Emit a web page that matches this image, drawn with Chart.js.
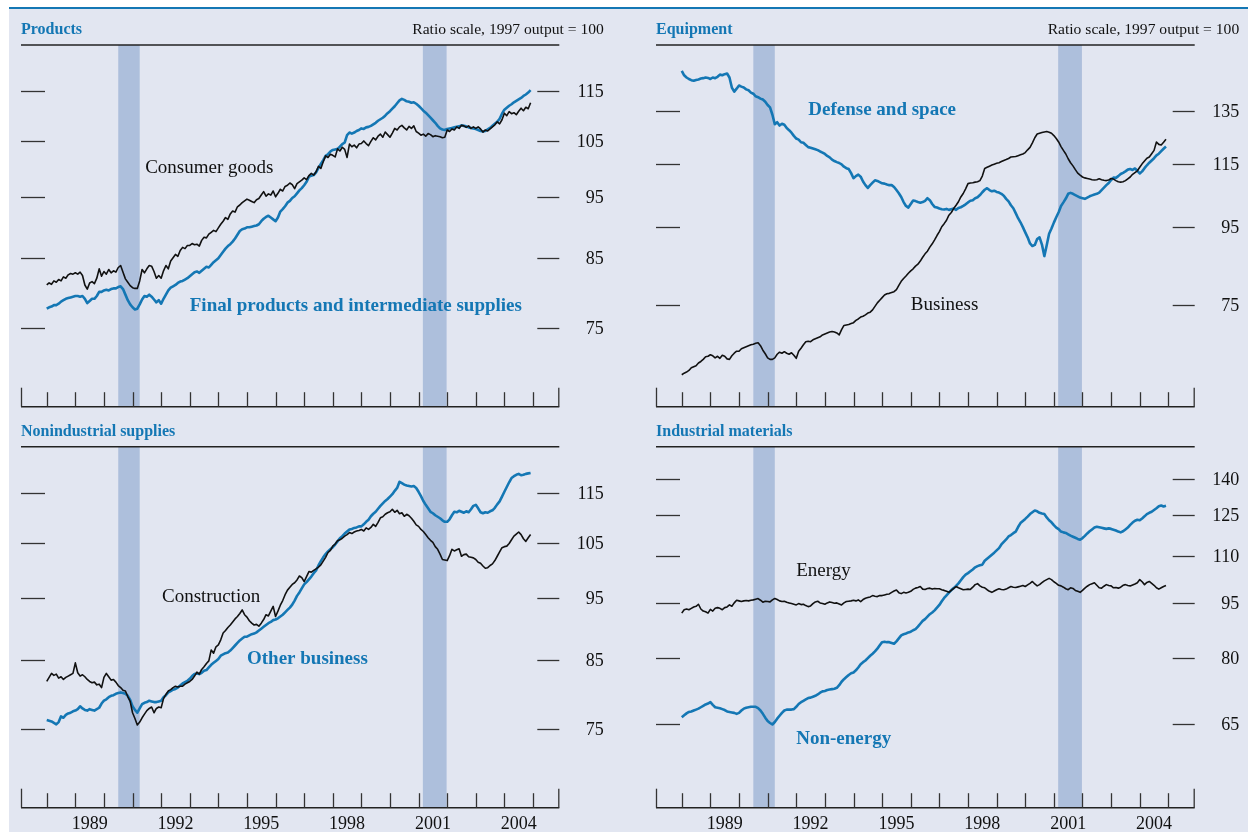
<!DOCTYPE html>
<html>
<head>
<meta charset="utf-8">
<script src="https://cdn.jsdelivr.net/npm/chart.js@4.4.1/dist/chart.umd.min.js"></script>
<style>
  html, body { margin: 0; padding: 0; background: #fff; }
  #page {
    position: absolute; left: 9px; top: 7px; width: 1239px; height: 825px;
    background: #e2e6f1; border-top: 2px solid #1477b4; box-sizing: border-box;
  }
  canvas { position: absolute; }
</style>
</head>
<body>
<div id="page"></div>
<canvas id="products" width="624" height="416" style="left:0;top:0"></canvas>
<canvas id="equipment" width="624" height="416" style="left:624px;top:0"></canvas>
<canvas id="nonindustrial" width="624" height="416" style="left:0;top:416px"></canvas>
<canvas id="materials" width="624" height="416" style="left:624px;top:416px"></canvas>

<script>
// monthly index values, Jan 1988 .. Dec 2004 (1997 output = 100)
const startYear = 1988;

const consumerGoods = [
  81.0, 81.3, 81.1, 81.6, 81.4, 81.8, 81.6, 82.2, 82.0, 82.5, 82.7, 82.6,
  82.8, 82.6, 82.9, 82.4, 81.0, 80.4, 81.3, 81.5, 81.2, 82.0, 83.4, 82.3,
  83.0, 82.6, 83.3, 82.8, 83.1, 82.9, 83.6, 83.9, 82.9, 81.9, 81.4, 80.9,
  80.6, 80.5, 80.5, 81.6, 83.3, 82.8, 83.4, 83.9, 83.8, 83.0, 82.0, 82.4,
  82.0, 83.1, 83.9, 83.4, 84.6, 85.1, 85.6, 85.3, 86.2, 86.7, 86.5, 87.0,
  87.0, 87.3, 87.1, 87.2, 86.9, 87.8, 88.3, 88.2, 88.8, 89.1, 89.4, 89.2,
  89.8, 90.4, 90.9, 91.5, 91.2, 92.1, 92.6, 92.4, 93.3, 93.6, 94.0, 94.3,
  94.6, 94.4, 94.2, 94.0, 94.5, 94.7, 95.3, 95.9, 95.1, 95.5, 95.3, 96.0,
  95.0, 95.6, 96.3, 96.0, 96.8, 97.0, 97.4, 97.1, 96.4, 97.3, 97.6, 97.9,
  98.3, 98.0, 98.7, 99.1, 98.8, 99.4, 100.4, 100.0, 101.2, 102.3, 102.0, 102.6,
  102.4, 102.1, 103.6, 103.2, 103.9, 103.5, 102.0, 104.5, 104.0, 104.3, 103.8, 104.5,
  104.6, 105.1, 104.6, 104.2, 105.0, 105.7, 105.3, 106.0, 106.4, 105.8, 106.8, 106.3,
  105.8, 106.6, 107.5, 107.2, 107.8, 108.1, 107.6, 107.2, 107.9, 107.5, 108.0, 106.9,
  106.6, 106.2, 106.4, 106.0, 106.5, 106.3, 105.9, 106.1, 106.0, 105.9, 105.7, 105.8,
  107.2, 106.9, 107.4, 107.2, 107.8, 107.5, 108.1, 108.0, 107.7, 108.0, 107.5, 107.8,
  107.5, 107.8, 107.4, 106.8, 107.2, 107.0, 107.4, 107.8, 108.2, 108.8, 108.4, 109.2,
  110.5, 110.0, 110.8, 110.4, 110.6, 110.2, 110.9, 111.5, 111.0, 111.7, 111.4, 112.6
];

const finalProducts = [
  77.6, 77.8, 77.9, 78.1, 78.1, 78.3, 78.6, 78.8, 79.0, 79.1, 79.2, 79.3,
  79.4, 79.4, 79.3, 79.4, 79.0, 78.4, 78.7, 79.0, 79.0, 79.4, 80.0, 80.0,
  80.2, 80.3, 80.2, 80.4, 80.5, 80.5, 80.7, 80.8, 80.4, 79.6, 78.8, 78.2,
  77.8, 77.5, 77.6, 78.2, 78.9, 79.4, 79.3, 79.6, 79.3, 78.9, 78.5, 78.8,
  78.3, 79.0, 79.6, 80.2, 80.6, 80.8, 81.0, 81.3, 81.5, 81.6, 81.8, 82.0,
  82.3, 82.6, 82.9, 83.0, 82.8, 83.1, 83.4, 83.7, 83.6, 84.0, 84.4, 84.7,
  85.0, 85.5, 86.0, 86.5, 86.9, 87.2, 87.6, 88.1, 88.7, 89.3, 89.6, 89.7,
  89.9, 89.9, 90.0, 90.1, 90.2, 90.4, 90.9, 91.3, 91.6, 91.8, 91.5, 91.2,
  90.9, 91.5, 92.5, 92.9, 93.4, 94.0, 94.3, 94.8, 95.1, 95.6, 96.1, 96.5,
  97.0, 97.6, 98.5, 98.7, 98.8, 99.3, 100.1, 100.8, 101.5, 102.3, 102.6, 103.1,
  103.4, 103.5, 103.6, 104.0, 104.5, 104.8, 106.2, 106.7, 106.5, 106.7, 107.0, 107.2,
  107.5, 107.4, 107.7, 107.8, 108.0, 108.3, 108.6, 109.0, 109.3, 109.6, 110.0, 110.5,
  110.9, 111.4, 111.9, 112.5, 113.1, 113.4, 113.2, 112.9, 112.8, 112.6, 112.7, 112.4,
  112.0, 111.5, 111.0, 110.6, 110.1, 109.6, 109.1, 108.6, 108.0, 107.5, 107.3, 107.2,
  107.4, 107.5, 107.6, 107.7, 107.8, 107.9, 108.1, 108.0, 107.9, 107.7, 107.6, 107.5,
  107.4, 107.2, 107.0, 106.9, 107.0, 107.3, 107.6, 108.0, 108.4, 108.8, 109.4, 110.4,
  111.2, 111.6, 112.0, 112.3, 112.7, 113.0, 113.3, 113.6, 114.0, 114.3, 114.7, 115.2
];

const defenseSpace = [
  152.5, 150.5, 149.5, 148.8, 148.3, 148.0, 148.4, 148.6, 149.0, 149.2, 149.5, 149.3,
  148.8, 149.5, 149.2, 149.8, 150.8, 150.5, 151.0, 151.3, 149.5, 145.0, 143.2, 144.5,
  145.9, 145.4, 145.0, 144.2, 143.8, 142.8, 142.3, 141.2, 140.8, 140.2, 139.8, 138.9,
  137.5, 136.5, 133.5, 129.7, 130.5, 129.2, 129.9, 129.5, 128.2, 127.4, 126.4, 125.2,
  124.2, 123.8, 122.8, 122.6, 121.8, 121.0, 120.8, 120.5, 120.2, 119.9, 119.4, 119.0,
  118.5, 117.8, 117.3, 116.5, 116.0, 115.6, 115.3, 114.8, 114.0, 113.5, 113.2, 111.8,
  110.1, 110.8, 111.3, 110.6, 109.0, 107.8, 106.9, 107.8, 108.6, 109.4, 109.2, 108.8,
  108.4, 108.3, 108.0, 107.8, 107.8, 107.2, 106.2, 105.2, 104.0, 102.4, 101.2, 100.7,
  101.8, 102.9, 102.7, 102.4, 102.2, 102.4, 102.8, 103.6, 103.0, 101.8, 100.9, 100.7,
  100.4, 100.2, 100.1, 100.3, 100.0, 100.2, 100.4, 100.0, 100.6, 100.8, 101.2, 101.7,
  102.3, 102.8, 103.0, 103.6, 103.9, 104.6, 105.5, 106.3, 106.8, 106.2, 105.8, 106.0,
  105.6, 105.4, 105.0, 104.4, 103.4, 102.6, 101.4, 100.5, 99.0, 97.5, 96.3, 94.9,
  93.4, 92.0, 90.3, 89.6, 89.9, 91.5, 92.0, 90.0, 86.9, 89.8, 93.0, 94.5,
  96.2, 97.8, 99.3, 101.2, 102.3, 103.5, 105.0, 105.3, 105.0, 104.6, 104.2, 103.8,
  103.6, 103.4, 103.8, 104.2, 104.5, 104.8, 105.0, 105.4, 106.2, 107.0, 107.8, 108.5,
  109.5, 110.3, 110.2, 110.8, 111.5, 111.9, 112.4, 113.0, 113.2, 112.9, 113.4, 112.6,
  111.7, 112.4, 113.5, 114.5, 115.4, 116.2, 117.0, 118.0, 118.6, 119.5, 120.4, 121.2
];

const business = [
  60.6, 60.9, 61.1, 61.4, 61.9, 62.1, 62.3, 62.8, 63.1, 63.5, 64.0, 64.1,
  64.4, 64.2, 63.8, 64.1, 63.7, 64.3, 64.1, 63.6, 63.5, 64.2, 64.7, 65.1,
  65.1, 65.6, 65.8, 66.0, 66.2, 66.4, 66.5, 66.7, 66.8, 66.2, 65.3, 64.6,
  63.8, 63.5, 63.5, 63.8, 64.5, 64.9, 64.7, 65.0, 64.7, 64.5, 64.8, 64.3,
  63.7, 65.1, 65.7, 66.4, 67.0, 67.1, 67.0, 67.4, 67.6, 67.8, 68.0, 68.4,
  68.6, 68.8, 69.0, 69.1, 69.0, 68.8, 68.4, 69.5, 70.4, 70.5, 70.6, 70.8,
  71.0, 71.5, 71.8, 72.2, 72.4, 72.7, 73.1, 73.3, 73.8, 74.6, 75.4, 76.0,
  76.6, 77.2, 77.5, 77.6, 77.8, 78.0, 78.5, 79.5, 80.5, 81.2, 81.8, 82.5,
  83.1, 83.6, 84.3, 84.8, 85.6, 86.6, 87.5, 88.2, 89.3, 90.2, 91.3, 92.5,
  93.6, 95.0, 95.9, 96.9, 98.4, 99.2, 100.4, 101.4, 102.5, 104.0, 105.1, 106.6,
  108.3, 108.5, 108.6, 108.8, 108.9, 109.3, 110.8, 113.4, 113.8, 114.2, 114.6, 114.9,
  115.2, 115.4, 115.8, 116.2, 116.5, 116.9, 117.4, 117.5, 117.6, 117.9, 118.2, 118.5,
  119.0, 120.0, 120.9, 122.6, 124.5, 125.9, 126.2, 126.5, 126.7, 126.9, 126.6, 126.2,
  125.3, 124.2, 122.9, 121.2, 119.8, 118.5, 116.8, 115.4, 114.3, 113.0, 111.8, 111.1,
  110.5, 110.2, 110.0, 109.8, 109.6, 109.5, 109.6, 109.9, 109.6, 109.4, 109.3, 109.5,
  110.0, 109.8, 109.3, 108.9, 108.8, 108.9, 109.3, 109.9, 110.5, 111.4, 112.0, 112.6,
  113.8, 115.0, 116.0, 117.0, 117.4, 118.6, 119.8, 122.9, 122.0, 121.8, 122.8, 123.9
];

const construction = [
  81.7, 82.3, 82.9, 82.6, 82.8, 82.2, 82.4, 82.0, 82.3, 82.5, 82.7, 82.9,
  84.5, 83.0, 82.5, 82.7, 82.4, 82.0, 81.7, 81.5, 81.6, 81.2, 81.3, 80.8,
  82.3, 82.9, 82.4, 81.9, 82.0, 81.6, 81.1, 80.8, 80.4, 80.3, 79.5, 78.8,
  77.2, 76.4, 75.5, 75.9, 76.5, 77.0, 77.5, 77.8, 78.0, 77.2, 77.8, 78.0,
  77.9, 79.2, 79.8, 80.3, 80.5, 80.8, 81.0, 80.9, 81.0, 81.0, 81.3, 81.5,
  81.7, 82.0, 82.5, 83.1, 82.8, 83.5, 83.9, 84.4, 84.8, 86.5, 86.0, 87.0,
  87.3, 88.1, 89.2, 89.6, 90.1, 90.5, 91.0, 91.5, 91.9, 92.4, 93.0, 92.2,
  91.8, 91.2, 90.8, 90.5, 90.6, 90.3, 90.8, 91.4, 92.2, 92.0, 92.8, 93.6,
  91.9, 92.8, 93.8, 94.6, 95.6, 96.4, 96.9, 97.4, 97.7, 98.2, 98.9, 98.6,
  97.9, 98.8, 99.7, 99.6, 99.9, 100.2, 100.5, 100.9, 101.6, 102.3, 103.2, 103.6,
  104.4, 104.8, 105.4, 105.6, 105.9, 106.3, 106.6, 107.0, 106.8, 107.1, 107.3, 107.4,
  107.6, 107.3, 107.9, 107.6, 108.0, 108.6, 108.2, 109.0, 109.9, 110.1, 110.6, 110.9,
  111.1, 111.6, 111.0, 111.4, 110.7, 110.9, 110.2, 110.6, 110.3, 109.8, 109.2, 108.5,
  108.2, 107.6, 107.2, 106.6, 106.0, 105.5, 105.1, 104.3, 103.8, 102.9, 101.9, 101.8,
  101.7, 102.6, 103.8, 103.5, 103.7, 103.9, 102.5, 102.8, 102.9, 102.4, 102.3, 102.2,
  101.9, 101.4, 101.2, 100.7, 100.3, 100.4, 100.8, 101.1, 101.7, 102.5, 103.3, 104.1,
  104.3, 104.4, 104.9, 105.6, 106.3, 106.7, 107.1, 106.6, 105.8, 105.3, 106.0, 106.6
];

const otherBusiness = [
  76.2, 76.1, 76.0, 75.8, 75.6, 75.9, 76.7, 76.5, 76.9, 77.1, 77.2, 77.4,
  77.5, 77.7, 78.1, 77.8, 77.6, 77.5, 77.7, 77.6, 77.5, 77.7, 77.9, 78.5,
  78.9, 79.1, 79.4, 79.6, 79.7, 79.9, 80.0, 80.1, 80.0, 79.9, 79.6, 79.0,
  78.1, 77.6, 77.2, 77.8, 78.4, 78.6, 78.7, 78.9, 78.8, 78.7, 78.7, 78.8,
  78.9, 79.4, 79.7, 80.1, 80.3, 80.5, 80.6, 80.8, 81.1, 81.4, 81.6, 81.8,
  82.1, 82.5, 82.8, 82.9, 82.8, 83.0, 83.3, 83.4, 83.8, 84.2, 84.5, 84.8,
  85.1, 85.6, 85.8, 86.0, 86.1, 86.4, 86.8, 87.2, 87.6, 88.0, 88.3, 88.6,
  88.6, 88.8, 89.0, 89.1, 89.3, 89.6, 89.9, 90.2, 90.5, 90.8, 91.0, 91.3,
  91.4, 91.6, 91.9, 92.2, 92.6, 93.0, 93.4, 93.9, 94.6, 95.4, 96.0, 96.7,
  97.4, 97.8, 98.3, 98.8, 99.4, 99.9, 100.8, 101.6, 102.3, 102.9, 103.4, 103.8,
  104.2, 104.7, 105.3, 105.9, 106.3, 106.8, 107.2, 107.6, 107.7, 107.9, 108.0, 108.2,
  108.2, 108.6, 109.1, 109.5, 110.2, 110.7, 111.1, 111.7, 112.3, 112.8, 113.3, 113.7,
  114.2, 114.7, 115.4, 116.0, 117.3, 117.0, 116.7, 116.5, 116.4, 116.3, 116.4, 116.0,
  115.2, 114.3, 113.3, 112.5, 111.8, 111.1, 110.8, 110.4, 110.1, 109.8, 109.4, 109.1,
  109.1, 109.6, 110.4, 111.1, 111.0, 111.3, 111.1, 110.9, 111.2, 111.0, 111.6, 112.3,
  112.5, 111.8, 111.0, 110.8, 111.0, 110.9, 111.2, 111.4, 111.9, 112.6, 113.2, 114.2,
  115.2, 116.2, 117.2, 118.1, 118.5, 118.8, 119.0, 118.7, 118.8, 119.0, 119.1, 119.2
];

const energy = [
  92.0, 93.0, 93.2, 93.0, 93.4, 93.8, 94.0, 94.6, 93.2, 92.6, 92.4, 92.0,
  93.1, 92.6, 93.4, 93.6, 93.4, 93.0, 93.6, 93.8, 94.4, 94.0, 95.0, 95.8,
  95.6, 95.4, 95.6, 95.7, 95.6, 95.8, 95.9, 96.1, 96.3, 95.8, 95.2, 95.5,
  95.4, 95.3, 95.9, 96.3, 96.0, 95.6, 95.4, 95.5, 95.2, 95.0, 94.8, 94.6,
  94.4, 94.8, 94.5, 94.6, 94.2, 93.9, 94.1, 94.8, 95.3, 95.5, 95.0, 94.8,
  94.6, 95.0, 95.3, 95.1, 94.9, 95.0, 94.7, 94.4, 95.0, 95.4, 95.5, 95.6,
  95.8, 95.6, 95.9, 95.4, 96.0, 96.4, 96.6, 96.8, 97.2, 97.0, 96.9, 97.2,
  97.2, 97.4, 97.6, 97.7, 98.2, 98.6, 98.9, 98.1, 97.8, 98.2, 98.0, 98.2,
  98.5, 99.1, 99.5, 99.7, 100.0, 99.2, 99.1, 99.4, 99.5, 99.2, 99.4, 99.3,
  99.3, 99.0, 98.8, 98.5, 98.2, 98.8, 99.4, 100.0, 99.6, 99.3, 99.0, 99.1,
  99.2, 99.1, 99.8, 100.6, 100.9, 100.2, 99.8, 99.6, 99.0, 98.5, 98.2, 98.6,
  99.0, 99.3, 99.1, 99.0, 99.2, 99.6, 100.0, 99.8, 99.7, 99.9, 100.1, 100.3,
  100.0, 100.5, 101.0, 101.6, 100.8, 100.2, 100.6, 101.2, 101.8, 102.2, 102.6, 102.2,
  101.5, 101.0, 100.4, 100.2, 99.8, 99.3, 99.0, 99.6, 99.4, 98.8, 98.5, 98.2,
  98.8, 99.5, 100.1, 100.6, 100.9, 101.2, 100.4, 99.6, 99.5, 100.1, 100.6, 100.3,
  100.2, 99.6, 99.7, 99.5, 99.8, 100.4, 100.6, 100.3, 100.2, 100.5, 100.8, 101.2,
  102.2, 101.5, 100.6, 101.3, 101.6, 101.0, 100.4, 99.6, 99.2, 99.6, 100.0, 100.3
];

const nonEnergy = [
  66.4, 66.8, 67.2, 67.5, 67.6, 67.8, 68.0, 68.2, 68.5, 68.8, 69.1, 69.3,
  69.6, 69.0, 68.5, 68.4, 68.3, 68.1, 67.9, 67.6, 67.5, 67.4, 67.3, 67.1,
  67.3, 67.8, 68.2, 68.4, 68.5, 68.6, 68.6, 68.6, 68.3, 67.8, 67.1, 66.3,
  65.6, 65.2, 64.9, 65.4, 66.1, 66.7, 67.3, 67.8, 68.0, 68.0, 68.0, 68.1,
  68.6, 69.2, 69.6, 69.9, 70.2, 70.5, 70.6, 70.8, 71.0, 71.3, 71.7, 72.0,
  72.1, 72.3, 72.4, 72.5, 72.6, 72.8, 73.4, 74.2, 74.8, 75.3, 75.8, 76.2,
  76.4, 76.9, 77.6, 78.4, 78.9, 79.3, 79.9, 80.5, 81.0, 81.6, 82.3, 83.2,
  84.0, 84.1, 84.0, 84.0, 83.8, 83.6, 84.2, 85.0, 85.8, 86.1, 86.3, 86.6,
  86.8, 87.2, 87.5, 88.2, 89.0, 89.8, 90.3, 91.0, 91.7, 92.2, 92.8, 93.6,
  94.4, 95.5, 96.5, 97.3, 98.1, 98.9, 99.5, 100.2, 101.0, 102.0, 103.0, 103.8,
  104.3, 104.9, 105.5, 106.2, 106.6, 106.9, 107.1, 108.4, 109.1, 109.8, 110.5, 111.2,
  112.0, 112.8, 114.1, 115.0, 115.9, 117.0, 117.5, 118.2, 118.8, 120.5, 122.0, 122.8,
  123.6, 124.5, 125.5, 126.2, 126.9, 126.6, 126.0, 125.7, 125.5, 124.2, 123.1, 122.3,
  121.2, 120.3, 119.7, 118.8, 118.5, 118.3, 117.8, 117.3, 116.9, 116.5, 116.1, 115.8,
  116.4, 117.2, 118.1, 118.9, 119.6, 120.3, 120.6, 120.4, 120.2, 120.0, 119.8, 120.0,
  119.8, 119.5, 119.2, 118.8, 118.5, 118.9, 119.6, 120.3, 121.3, 122.2, 122.9, 123.3,
  123.1, 123.8, 124.6, 125.5, 126.0, 126.4, 127.1, 127.8, 128.6, 128.9, 128.5, 128.8
];

// recession periods (decimal years)
const recessions = [[1990.5, 1991.25], [2001.15, 2001.98]];
const yearTicks = [1988, 1989, 1990, 1991, 1992, 1993, 1994, 1995, 1996, 1997,
                   1998, 1999, 2000, 2001, 2002, 2003, 2004, 2005];
const yearLabels = [1989, 1992, 1995, 1998, 2001, 2004];
const ticksProducts = [75, 85, 95, 105, 115];
const ticksEquipment = [75, 95, 115, 135];
const ticksMaterials = [65, 80, 95, 110, 125, 140];

const BLUE = '#1477b4';
const BLACK = '#111111';
const BAND = '#adbfdc';
const SERIF = '"Liberation Serif", "Times New Roman", serif';

function toPoints(values) {
  return values.map((v, i) => ({ x: startYear + i / 12, y: v }));
}

function seg(ctx, x0, y0, x1, y1) {
  ctx.beginPath();
  ctx.moveTo(x0, y0);
  ctx.lineTo(x1, y1);
  ctx.stroke();
}

function makeDecor(p) {
  return {
    id: 'panelDecor',
    beforeDatasetsDraw(chart) {
      const { ctx, chartArea: a, scales: { x, y } } = chart;
      ctx.save();

      ctx.fillStyle = BAND;
      recessions.forEach(([s, e]) => {
        const x0 = x.getPixelForValue(s), x1 = x.getPixelForValue(e);
        ctx.fillRect(x0, a.top, x1 - x0, a.bottom - a.top);
      });

      ctx.strokeStyle = '#222';
      ctx.lineWidth = 1.5;
      seg(ctx, a.left, a.top, a.right, a.top);
      seg(ctx, a.left, a.bottom, a.right, a.bottom);

      ctx.strokeStyle = '#333';
      ctx.lineWidth = 1.3;
      yearTicks.forEach(yr => {
        const px = Math.round(x.getPixelForValue(yr)) + 0.5;
        seg(ctx, px, a.bottom, px, a.bottom - 14.5);
      });
      seg(ctx, a.left + 0.5, a.bottom, a.left + 0.5, a.bottom - 19);
      seg(ctx, a.right - 0.5, a.bottom, a.right - 0.5, a.bottom - 19);

      ctx.fillStyle = '#111';
      ctx.font = '18px ' + SERIF;
      ctx.textAlign = 'right';
      ctx.textBaseline = 'middle';
      p.yTicks.forEach(v => {
        const py = Math.round(y.getPixelForValue(v)) + 0.5;
        seg(ctx, a.left, py, a.left + 24, py);
        seg(ctx, a.right - 22, py, a.right, py);
        ctx.fillText(String(v), a.right + 44.5, py + 1);
      });

      if (p.showYears) {
        ctx.textAlign = 'center';
        yearLabels.forEach(yr => {
          ctx.fillText(String(yr), x.getPixelForValue(yr + 0.5), a.bottom + 16.5);
        });
      }

      ctx.textBaseline = 'middle';
      ctx.textAlign = 'left';
      ctx.fillStyle = BLUE;
      ctx.font = 'bold 16px ' + SERIF;
      ctx.fillText(p.title, a.left, a.top - 15);
      if (p.showRatio) {
        ctx.fillStyle = '#111';
        ctx.font = '15.6px ' + SERIF;
        ctx.textAlign = 'right';
        ctx.fillText('Ratio scale, 1997 output = 100', a.right + 44.5, a.top - 15);
      }
      ctx.restore();
    },
    afterDatasetsDraw(chart) {
      const { ctx, scales: { x, y } } = chart;
      ctx.save();
      ctx.textAlign = 'left';
      ctx.textBaseline = 'middle';
      p.notes.forEach(n => {
        ctx.fillStyle = n.blue ? BLUE : '#111';
        ctx.font = (n.blue ? 'bold ' : '') + '19px ' + SERIF;
        ctx.fillText(n.text, x.getPixelForValue(n.x), y.getPixelForValue(n.y));
      });
      ctx.restore();
    }
  };
}

const panels = [
  {
    id: 'products', title: 'Products', showRatio: true, showYears: false,
    padding: { left: 21, right: 64.7, top: 45, bottom: 9.3 },
    yMin: 65, yMax: 125, yTicks: ticksProducts,
    series: [
      { data: consumerGoods, blue: false },
      { data: finalProducts, blue: true }
    ],
    notes: [
      { text: 'Consumer goods', x: 1991.44, y: 100, blue: false },
      { text: 'Final products and intermediate supplies', x: 1993.0, y: 78, blue: true }
    ]
  },
  {
    id: 'equipment', title: 'Equipment', showRatio: true, showYears: false,
    padding: { left: 32, right: 53.3, top: 45, bottom: 9.3 },
    yMin: 55, yMax: 165, yTicks: ticksEquipment,
    series: [
      { data: business, blue: false },
      { data: defenseSpace, blue: true }
    ],
    notes: [
      { text: 'Defense and space', x: 1992.42, y: 135.3, blue: true },
      { text: 'Business', x: 1996.0, y: 75, blue: false }
    ]
  },
  {
    id: 'nonindustrial', title: 'Nonindustrial supplies', showRatio: false, showYears: true,
    padding: { left: 21, right: 64.7, top: 30.7, bottom: 24.3 },
    yMin: 65, yMax: 125, yTicks: ticksProducts,
    series: [
      { data: construction, blue: false },
      { data: otherBusiness, blue: true }
    ],
    notes: [
      { text: 'Construction', x: 1992.03, y: 95.2, blue: false },
      { text: 'Other business', x: 1995.0, y: 85.1, blue: true }
    ]
  },
  {
    id: 'materials', title: 'Industrial materials', showRatio: false, showYears: true,
    padding: { left: 32, right: 53.3, top: 30.7, bottom: 24.3 },
    yMin: 50, yMax: 155, yTicks: ticksMaterials,
    series: [
      { data: energy, blue: false },
      { data: nonEnergy, blue: true }
    ],
    notes: [
      { text: 'Energy', x: 1992.0, y: 105, blue: false },
      { text: 'Non-energy', x: 1992.0, y: 62, blue: true }
    ]
  }
];

panels.forEach(p => {
  new Chart(document.getElementById(p.id), {
    type: 'line',
    data: {
      datasets: p.series.map(s => ({
        data: toPoints(s.data),
        borderColor: s.blue ? BLUE : BLACK,
        borderWidth: s.blue ? 2.6 : 1.6,
        pointRadius: 0,
        tension: 0,
        borderJoinStyle: 'round',
        fill: false
      }))
    },
    options: {
      responsive: false,
      animation: false,
      devicePixelRatio: 1,
      events: [],
      layout: { padding: p.padding },
      plugins: { legend: { display: false }, tooltip: { enabled: false } },
      scales: {
        x: { type: 'linear', min: 1987.1, max: 2005.92, display: false },
        y: { type: 'logarithmic', min: p.yMin, max: p.yMax, display: false }
      }
    },
    plugins: [makeDecor(p)]
  });
});
</script>
</body>
</html>
